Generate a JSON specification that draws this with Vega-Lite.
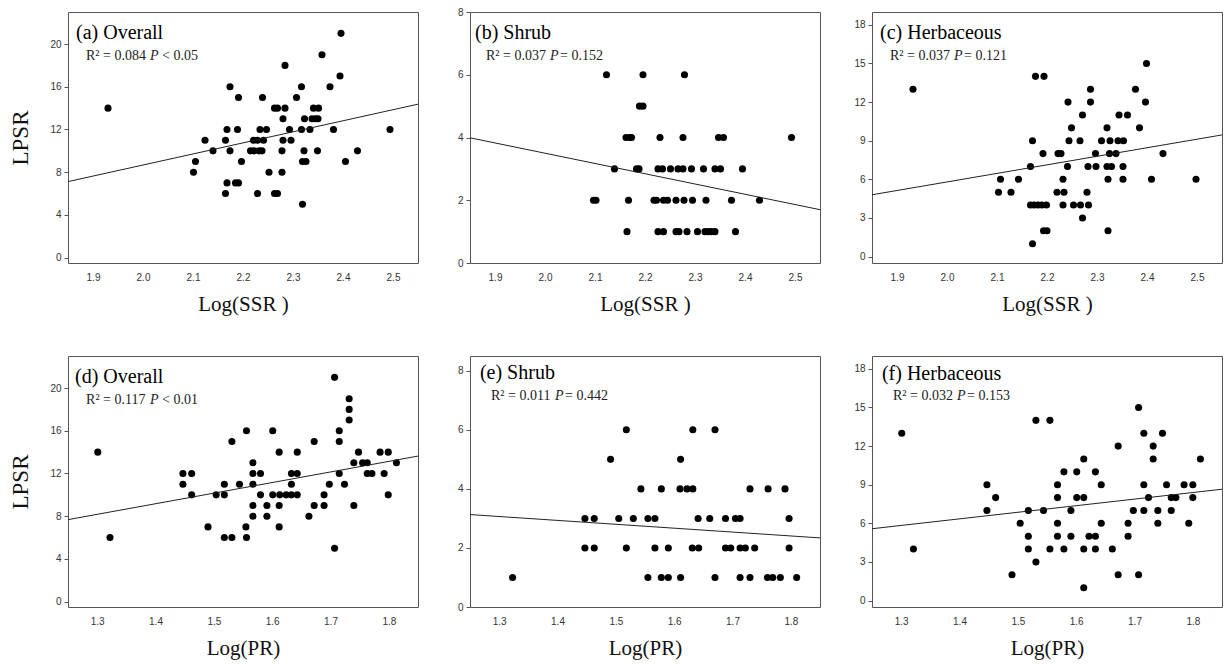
{
  "$schema": "https://vega.github.io/schema/vega-lite/v6.json",
  "background": "white",
  "padding": {"left": 9, "top": 6, "right": 2, "bottom": 2},
  "config": {
    "view": {"stroke": "#555", "strokeWidth": 1},
    "axis": {"grid": false, "domain": false, "labelFont": "Liberation Sans", "labelFontSize": 10, "labelColor": "#333", "tickColor": "#555", "tickSize": 4, "titleFont": "Liberation Serif", "titleFontSize": 21, "titleFontWeight": "normal", "titleColor": "#111"},
    "axisX": {"ticks": false, "labelPadding": 9, "titlePadding": 11},
    "axisY": {"labelPadding": 3, "titlePadding": 17, "titleFontSize": 23},
    "circle": {"size": 50, "opacity": 1, "color": "#000"},
    "line": {"color": "#222", "strokeWidth": 1}
  },
  "datasets": {
    "a": [
      {"x":1.930,"y":14},{"x":2.101,"y":8},{"x":2.105,"y":9},{"x":2.124,"y":11},{"x":2.140,"y":10},
      {"x":2.165,"y":11},{"x":2.168,"y":12},{"x":2.165,"y":6},{"x":2.168,"y":7},{"x":2.174,"y":16},
      {"x":2.174,"y":10},{"x":2.185,"y":7},{"x":2.191,"y":7},{"x":2.189,"y":12},{"x":2.191,"y":15},
      {"x":2.197,"y":9},{"x":2.215,"y":10},{"x":2.222,"y":10},{"x":2.232,"y":10},{"x":2.238,"y":10},
      {"x":2.221,"y":11},{"x":2.229,"y":11},{"x":2.241,"y":11},{"x":2.229,"y":6},{"x":2.234,"y":12},
      {"x":2.239,"y":15},{"x":2.247,"y":12},{"x":2.252,"y":8},{"x":2.263,"y":14},{"x":2.269,"y":14},
      {"x":2.263,"y":6},{"x":2.269,"y":6},{"x":2.278,"y":10},{"x":2.278,"y":8},{"x":2.280,"y":13},
      {"x":2.280,"y":11},{"x":2.284,"y":18},{"x":2.284,"y":14},{"x":2.293,"y":12},{"x":2.296,"y":11},
      {"x":2.307,"y":15},{"x":2.317,"y":16},{"x":2.317,"y":12},{"x":2.319,"y":9},{"x":2.319,"y":5},
      {"x":2.322,"y":10},{"x":2.323,"y":13},{"x":2.326,"y":9},{"x":2.334,"y":12},{"x":2.338,"y":13},
      {"x":2.341,"y":14},{"x":2.345,"y":13},{"x":2.351,"y":14},{"x":2.350,"y":13},{"x":2.349,"y":10},
      {"x":2.358,"y":19},{"x":2.374,"y":16},{"x":2.381,"y":12},{"x":2.394,"y":17},{"x":2.396,"y":21},
      {"x":2.405,"y":9},{"x":2.429,"y":10},{"x":2.494,"y":12}
    ],
    "b": [
      {"x":2.123,"y":6},{"x":2.196,"y":6},{"x":2.279,"y":6},
      {"x":2.189,"y":5},{"x":2.196,"y":5},
      {"x":2.162,"y":4},{"x":2.169,"y":4},{"x":2.173,"y":4},{"x":2.230,"y":4},{"x":2.276,"y":4},{"x":2.347,"y":4},{"x":2.357,"y":4},{"x":2.493,"y":4},
      {"x":2.139,"y":3},{"x":2.183,"y":3},{"x":2.188,"y":3},{"x":2.226,"y":3},{"x":2.235,"y":3},{"x":2.251,"y":3},{"x":2.266,"y":3},{"x":2.276,"y":3},{"x":2.293,"y":3},{"x":2.317,"y":3},{"x":2.340,"y":3},{"x":2.351,"y":3},{"x":2.395,"y":3},
      {"x":2.097,"y":2},{"x":2.102,"y":2},{"x":2.167,"y":2},{"x":2.218,"y":2},{"x":2.223,"y":2},{"x":2.237,"y":2},{"x":2.245,"y":2},{"x":2.262,"y":2},{"x":2.278,"y":2},{"x":2.295,"y":2},{"x":2.322,"y":2},{"x":2.373,"y":2},{"x":2.429,"y":2},
      {"x":2.164,"y":1},{"x":2.226,"y":1},{"x":2.237,"y":1},{"x":2.262,"y":1},{"x":2.268,"y":1},{"x":2.284,"y":1},{"x":2.305,"y":1},{"x":2.320,"y":1},{"x":2.327,"y":1},{"x":2.333,"y":1},{"x":2.340,"y":1},{"x":2.381,"y":1}
    ],
    "c": [
      {"x":1.932,"y":13},{"x":2.103,"y":5},{"x":2.107,"y":6},{"x":2.128,"y":5},{"x":2.143,"y":6},
      {"x":2.167,"y":4},{"x":2.174,"y":4},{"x":2.182,"y":4},{"x":2.190,"y":4},{"x":2.199,"y":4},
      {"x":2.167,"y":7},{"x":2.171,"y":9},{"x":2.171,"y":1},{"x":2.177,"y":14},{"x":2.192,"y":8},
      {"x":2.194,"y":14},{"x":2.193,"y":2},{"x":2.200,"y":2},{"x":2.220,"y":5},{"x":2.222,"y":8},
      {"x":2.228,"y":8},{"x":2.232,"y":6},{"x":2.234,"y":5},{"x":2.232,"y":4},{"x":2.241,"y":7},
      {"x":2.242,"y":12},{"x":2.244,"y":9},{"x":2.249,"y":10},{"x":2.253,"y":4},{"x":2.266,"y":9},
      {"x":2.267,"y":4},{"x":2.271,"y":11},{"x":2.271,"y":3},{"x":2.280,"y":5},{"x":2.282,"y":7},
      {"x":2.283,"y":4},{"x":2.287,"y":13},{"x":2.287,"y":12},{"x":2.297,"y":8},{"x":2.298,"y":7},
      {"x":2.309,"y":9},{"x":2.320,"y":10},{"x":2.320,"y":7},{"x":2.322,"y":6},{"x":2.322,"y":2},
      {"x":2.325,"y":8},{"x":2.326,"y":9},{"x":2.329,"y":7},{"x":2.338,"y":8},{"x":2.342,"y":9},
      {"x":2.344,"y":11},{"x":2.353,"y":9},{"x":2.352,"y":7},{"x":2.352,"y":6},{"x":2.361,"y":11},
      {"x":2.377,"y":13},{"x":2.385,"y":10},{"x":2.397,"y":12},{"x":2.399,"y":15},{"x":2.409,"y":6},
      {"x":2.432,"y":8},{"x":2.498,"y":6}
    ],
    "d": [
      {"x":1.301,"y":14},{"x":1.322,"y":6},{"x":1.447,"y":12},{"x":1.447,"y":11},{"x":1.462,"y":12},
      {"x":1.462,"y":10},{"x":1.490,"y":7},{"x":1.504,"y":10},{"x":1.518,"y":11},{"x":1.518,"y":10},
      {"x":1.518,"y":6},{"x":1.531,"y":15},{"x":1.531,"y":6},{"x":1.544,"y":11},{"x":1.555,"y":7},
      {"x":1.556,"y":16},{"x":1.556,"y":6},{"x":1.567,"y":13},{"x":1.567,"y":12},{"x":1.567,"y":11},
      {"x":1.567,"y":9},{"x":1.567,"y":8},{"x":1.580,"y":12},{"x":1.580,"y":10},{"x":1.591,"y":9},
      {"x":1.591,"y":8},{"x":1.601,"y":16},{"x":1.601,"y":10},{"x":1.612,"y":14},{"x":1.612,"y":9},
      {"x":1.612,"y":7},{"x":1.613,"y":10},{"x":1.624,"y":10},{"x":1.633,"y":12},{"x":1.633,"y":11},
      {"x":1.633,"y":10},{"x":1.643,"y":14},{"x":1.643,"y":12},{"x":1.643,"y":10},{"x":1.663,"y":8},
      {"x":1.672,"y":15},{"x":1.672,"y":9},{"x":1.689,"y":10},{"x":1.689,"y":9},{"x":1.698,"y":11},
      {"x":1.707,"y":21},{"x":1.707,"y":5},{"x":1.715,"y":16},{"x":1.715,"y":15},{"x":1.715,"y":12},
      {"x":1.724,"y":11},{"x":1.732,"y":19},{"x":1.732,"y":18},{"x":1.732,"y":17},{"x":1.740,"y":13},
      {"x":1.740,"y":9},{"x":1.748,"y":14},{"x":1.755,"y":13},{"x":1.763,"y":13},{"x":1.763,"y":12},
      {"x":1.771,"y":12},{"x":1.785,"y":14},{"x":1.792,"y":12},{"x":1.799,"y":14},{"x":1.799,"y":10},
      {"x":1.813,"y":13}
    ],
    "e": [
      {"x":1.323,"y":1},{"x":1.447,"y":3},{"x":1.447,"y":2},{"x":1.463,"y":3},{"x":1.463,"y":2},
      {"x":1.491,"y":5},{"x":1.505,"y":3},{"x":1.518,"y":6},{"x":1.518,"y":2},{"x":1.530,"y":3},
      {"x":1.543,"y":4},{"x":1.555,"y":3},{"x":1.555,"y":1},{"x":1.567,"y":3},{"x":1.567,"y":2},
      {"x":1.578,"y":4},{"x":1.578,"y":1},{"x":1.590,"y":2},{"x":1.590,"y":1},{"x":1.611,"y":5},
      {"x":1.610,"y":4},{"x":1.611,"y":1},{"x":1.622,"y":4},{"x":1.632,"y":6},{"x":1.632,"y":4},
      {"x":1.631,"y":2},{"x":1.641,"y":3},{"x":1.642,"y":2},{"x":1.661,"y":3},{"x":1.670,"y":6},
      {"x":1.670,"y":1},{"x":1.688,"y":3},{"x":1.688,"y":2},{"x":1.697,"y":2},{"x":1.705,"y":3},
      {"x":1.713,"y":3},{"x":1.713,"y":2},{"x":1.713,"y":1},{"x":1.722,"y":2},{"x":1.730,"y":4},
      {"x":1.730,"y":1},{"x":1.738,"y":2},{"x":1.761,"y":4},{"x":1.760,"y":1},{"x":1.769,"y":1},
      {"x":1.782,"y":1},{"x":1.790,"y":4},{"x":1.797,"y":3},{"x":1.797,"y":2},{"x":1.810,"y":1}
    ],
    "f": [
      {"x":1.301,"y":13},{"x":1.321,"y":4},{"x":1.447,"y":9},{"x":1.447,"y":7},{"x":1.462,"y":8},
      {"x":1.490,"y":2},{"x":1.504,"y":6},{"x":1.518,"y":7},{"x":1.518,"y":5},{"x":1.518,"y":4},
      {"x":1.531,"y":14},{"x":1.531,"y":3},{"x":1.544,"y":7},{"x":1.555,"y":14},{"x":1.555,"y":4},
      {"x":1.568,"y":9},{"x":1.568,"y":8},{"x":1.568,"y":6},{"x":1.568,"y":5},{"x":1.579,"y":10},
      {"x":1.579,"y":4},{"x":1.591,"y":7},{"x":1.591,"y":5},{"x":1.601,"y":10},{"x":1.601,"y":8},
      {"x":1.613,"y":11},{"x":1.613,"y":8},{"x":1.613,"y":4},{"x":1.613,"y":1},{"x":1.622,"y":5},
      {"x":1.633,"y":10},{"x":1.633,"y":5},{"x":1.633,"y":4},{"x":1.643,"y":9},{"x":1.643,"y":6},
      {"x":1.662,"y":4},{"x":1.672,"y":12},{"x":1.672,"y":2},{"x":1.689,"y":6},{"x":1.689,"y":5},
      {"x":1.698,"y":7},{"x":1.707,"y":15},{"x":1.707,"y":2},{"x":1.716,"y":13},{"x":1.716,"y":9},
      {"x":1.716,"y":7},{"x":1.724,"y":8},{"x":1.732,"y":12},{"x":1.732,"y":11},{"x":1.740,"y":7},
      {"x":1.740,"y":6},{"x":1.748,"y":13},{"x":1.755,"y":9},{"x":1.763,"y":8},{"x":1.763,"y":7},
      {"x":1.771,"y":8},{"x":1.785,"y":9},{"x":1.793,"y":6},{"x":1.800,"y":9},{"x":1.800,"y":8},
      {"x":1.813,"y":11}
    ],
    "fa": [{"x":1.85,"y":7.12},{"x":2.55,"y":14.37}],
    "fb": [{"x":1.85,"y":3.99},{"x":2.55,"y":1.70}],
    "fc": [{"x":1.85,"y":4.8},{"x":2.55,"y":9.45}],
    "fd": [{"x":1.25,"y":7.68},{"x":1.85,"y":13.63}],
    "fe": [{"x":1.25,"y":3.13},{"x":1.85,"y":2.34}],
    "ff": [{"x":1.25,"y":5.58},{"x":1.85,"y":8.65}],
    "one": [{}]
  },
  "columns": 3,
  "spacing": {"row": 93, "column": 52},
  "bounds": "flush",
  "concat": [
    {
      "width": 350, "height": 251,
      "layer": [
        {"data": {"name": "a"}, "mark": "circle",
         "encoding": {
           "x": {"field": "x", "type": "quantitative", "scale": {"domain": [1.85, 2.55], "nice": false, "zero": false}, "axis": {"values": [1.9, 2.0, 2.1, 2.2, 2.3, 2.4, 2.5], "format": ".1f"}, "title": "Log(SSR )"},
           "y": {"field": "y", "type": "quantitative", "scale": {"domain": [-0.5, 23], "nice": false, "zero": false}, "axis": {"values": [0, 4, 8, 12, 16, 20]}, "title": "LPSR"}}},
        {"data": {"name": "fa"}, "mark": "line",
         "encoding": {
           "x": {"field": "x", "type": "quantitative", "scale": {"domain": [1.85, 2.55], "nice": false, "zero": false}, "title": "Log(SSR )"},
           "y": {"field": "y", "type": "quantitative", "scale": {"domain": [-0.5, 23], "nice": false, "zero": false}, "title": "LPSR"}}},
        {"data": {"name": "one"}, "mark": {"type": "text", "font": "Liberation Serif", "fontSize": 20, "align": "left", "baseline": "alphabetic", "color": "#000"},
         "encoding": {"x": {"datum": 1.866}, "y": {"datum": 20.48}, "text": {"value": "(a) Overall"}}},
        {"data": {"name": "one"}, "mark": {"type": "text", "font": "Liberation Serif", "fontSize": 14, "align": "left", "baseline": "alphabetic", "color": "#222"},
         "encoding": {"x": {"datum": 1.886}, "y": {"datum": 18.52}, "text": {"value": "R² = 0.084"}}},
        {"data": {"name": "one"}, "mark": {"type": "text", "font": "Liberation Serif", "fontSize": 14, "fontStyle": "italic", "align": "left", "baseline": "alphabetic", "color": "#222", "dx": 64},
         "encoding": {"x": {"datum": 1.886}, "y": {"datum": 18.52}, "text": {"value": "P"}}},
        {"data": {"name": "one"}, "mark": {"type": "text", "font": "Liberation Serif", "fontSize": 14, "align": "left", "baseline": "alphabetic", "color": "#222", "dx": 76},
         "encoding": {"x": {"datum": 1.886}, "y": {"datum": 18.52}, "text": {"value": "< 0.05"}}}
      ]
    },
    {
      "width": 350, "height": 251,
      "layer": [
        {"data": {"name": "b"}, "mark": "circle",
         "encoding": {
           "x": {"field": "x", "type": "quantitative", "scale": {"domain": [1.85, 2.55], "nice": false, "zero": false}, "axis": {"values": [1.9, 2.0, 2.1, 2.2, 2.3, 2.4, 2.5], "format": ".1f"}, "title": "Log(SSR )"},
           "y": {"field": "y", "type": "quantitative", "scale": {"domain": [0, 8], "nice": false, "zero": false}, "axis": {"values": [0, 2, 4, 6, 8]}, "title": null}}},
        {"data": {"name": "fb"}, "mark": "line",
         "encoding": {
           "x": {"field": "x", "type": "quantitative", "scale": {"domain": [1.85, 2.55], "nice": false, "zero": false}, "title": "Log(SSR )"},
           "y": {"field": "y", "type": "quantitative", "scale": {"domain": [0, 8], "nice": false, "zero": false}, "title": null}}},
        {"data": {"name": "one"}, "mark": {"type": "text", "font": "Liberation Serif", "fontSize": 20, "align": "left", "baseline": "alphabetic", "color": "#000"},
         "encoding": {"x": {"datum": 1.860}, "y": {"datum": 7.14}, "text": {"value": "(b) Shrub"}}},
        {"data": {"name": "one"}, "mark": {"type": "text", "font": "Liberation Serif", "fontSize": 14, "align": "left", "baseline": "alphabetic", "color": "#222"},
         "encoding": {"x": {"datum": 1.882}, "y": {"datum": 6.48}, "text": {"value": "R² = 0.037"}}},
        {"data": {"name": "one"}, "mark": {"type": "text", "font": "Liberation Serif", "fontSize": 14, "fontStyle": "italic", "align": "left", "baseline": "alphabetic", "color": "#222", "dx": 64},
         "encoding": {"x": {"datum": 1.882}, "y": {"datum": 6.48}, "text": {"value": "P"}}},
        {"data": {"name": "one"}, "mark": {"type": "text", "font": "Liberation Serif", "fontSize": 14, "align": "left", "baseline": "alphabetic", "color": "#222", "dx": 74},
         "encoding": {"x": {"datum": 1.882}, "y": {"datum": 6.48}, "text": {"value": "= 0.152"}}}
      ]
    },
    {
      "width": 350, "height": 251,
      "layer": [
        {"data": {"name": "c"}, "mark": "circle",
         "encoding": {
           "x": {"field": "x", "type": "quantitative", "scale": {"domain": [1.85, 2.55], "nice": false, "zero": false}, "axis": {"values": [1.9, 2.0, 2.1, 2.2, 2.3, 2.4, 2.5], "format": ".1f"}, "title": "Log(SSR )"},
           "y": {"field": "y", "type": "quantitative", "scale": {"domain": [-0.5, 19], "nice": false, "zero": false}, "axis": {"values": [0, 3, 6, 9, 12, 15, 18]}, "title": null}}},
        {"data": {"name": "fc"}, "mark": "line",
         "encoding": {
           "x": {"field": "x", "type": "quantitative", "scale": {"domain": [1.85, 2.55], "nice": false, "zero": false}, "title": "Log(SSR )"},
           "y": {"field": "y", "type": "quantitative", "scale": {"domain": [-0.5, 19], "nice": false, "zero": false}, "title": null}}},
        {"data": {"name": "one"}, "mark": {"type": "text", "font": "Liberation Serif", "fontSize": 20, "align": "left", "baseline": "alphabetic", "color": "#000"},
         "encoding": {"x": {"datum": 1.866}, "y": {"datum": 16.91}, "text": {"value": "(c) Herbaceous"}}},
        {"data": {"name": "one"}, "mark": {"type": "text", "font": "Liberation Serif", "fontSize": 14, "align": "left", "baseline": "alphabetic", "color": "#222"},
         "encoding": {"x": {"datum": 1.886}, "y": {"datum": 15.28}, "text": {"value": "R² = 0.037"}}},
        {"data": {"name": "one"}, "mark": {"type": "text", "font": "Liberation Serif", "fontSize": 14, "fontStyle": "italic", "align": "left", "baseline": "alphabetic", "color": "#222", "dx": 64},
         "encoding": {"x": {"datum": 1.886}, "y": {"datum": 15.28}, "text": {"value": "P"}}},
        {"data": {"name": "one"}, "mark": {"type": "text", "font": "Liberation Serif", "fontSize": 14, "align": "left", "baseline": "alphabetic", "color": "#222", "dx": 74},
         "encoding": {"x": {"datum": 1.886}, "y": {"datum": 15.28}, "text": {"value": "= 0.121"}}}
      ]
    },
    {
      "width": 350, "height": 251,
      "layer": [
        {"data": {"name": "d"}, "mark": "circle",
         "encoding": {
           "x": {"field": "x", "type": "quantitative", "scale": {"domain": [1.25, 1.85], "nice": false, "zero": false}, "axis": {"values": [1.3, 1.4, 1.5, 1.6, 1.7, 1.8], "format": ".1f"}, "title": "Log(PR)"},
           "y": {"field": "y", "type": "quantitative", "scale": {"domain": [-0.5, 23], "nice": false, "zero": false}, "axis": {"values": [0, 4, 8, 12, 16, 20]}, "title": "LPSR"}}},
        {"data": {"name": "fd"}, "mark": "line",
         "encoding": {
           "x": {"field": "x", "type": "quantitative", "scale": {"domain": [1.25, 1.85], "nice": false, "zero": false}, "title": "Log(PR)"},
           "y": {"field": "y", "type": "quantitative", "scale": {"domain": [-0.5, 23], "nice": false, "zero": false}, "title": "LPSR"}}},
        {"data": {"name": "one"}, "mark": {"type": "text", "font": "Liberation Serif", "fontSize": 20, "align": "left", "baseline": "alphabetic", "color": "#000"},
         "encoding": {"x": {"datum": 1.262}, "y": {"datum": 20.48}, "text": {"value": "(d) Overall"}}},
        {"data": {"name": "one"}, "mark": {"type": "text", "font": "Liberation Serif", "fontSize": 14, "align": "left", "baseline": "alphabetic", "color": "#222"},
         "encoding": {"x": {"datum": 1.281}, "y": {"datum": 18.52}, "text": {"value": "R² = 0.117"}}},
        {"data": {"name": "one"}, "mark": {"type": "text", "font": "Liberation Serif", "fontSize": 14, "fontStyle": "italic", "align": "left", "baseline": "alphabetic", "color": "#222", "dx": 64},
         "encoding": {"x": {"datum": 1.281}, "y": {"datum": 18.52}, "text": {"value": "P"}}},
        {"data": {"name": "one"}, "mark": {"type": "text", "font": "Liberation Serif", "fontSize": 14, "align": "left", "baseline": "alphabetic", "color": "#222", "dx": 76},
         "encoding": {"x": {"datum": 1.281}, "y": {"datum": 18.52}, "text": {"value": "< 0.01"}}}
      ]
    },
    {
      "width": 350, "height": 251,
      "layer": [
        {"data": {"name": "e"}, "mark": "circle",
         "encoding": {
           "x": {"field": "x", "type": "quantitative", "scale": {"domain": [1.25, 1.85], "nice": false, "zero": false}, "axis": {"values": [1.3, 1.4, 1.5, 1.6, 1.7, 1.8], "format": ".1f"}, "title": "Log(PR)"},
           "y": {"field": "y", "type": "quantitative", "scale": {"domain": [0, 8.5], "nice": false, "zero": false}, "axis": {"values": [0, 2, 4, 6, 8]}, "title": null}}},
        {"data": {"name": "fe"}, "mark": "line",
         "encoding": {
           "x": {"field": "x", "type": "quantitative", "scale": {"domain": [1.25, 1.85], "nice": false, "zero": false}, "title": "Log(PR)"},
           "y": {"field": "y", "type": "quantitative", "scale": {"domain": [0, 8.5], "nice": false, "zero": false}, "title": null}}},
        {"data": {"name": "one"}, "mark": {"type": "text", "font": "Liberation Serif", "fontSize": 20, "align": "left", "baseline": "alphabetic", "color": "#000"},
         "encoding": {"x": {"datum": 1.267}, "y": {"datum": 7.72}, "text": {"value": "(e) Shrub"}}},
        {"data": {"name": "one"}, "mark": {"type": "text", "font": "Liberation Serif", "fontSize": 14, "align": "left", "baseline": "alphabetic", "color": "#222"},
         "encoding": {"x": {"datum": 1.286}, "y": {"datum": 7.02}, "text": {"value": "R² = 0.011"}}},
        {"data": {"name": "one"}, "mark": {"type": "text", "font": "Liberation Serif", "fontSize": 14, "fontStyle": "italic", "align": "left", "baseline": "alphabetic", "color": "#222", "dx": 64},
         "encoding": {"x": {"datum": 1.286}, "y": {"datum": 7.02}, "text": {"value": "P"}}},
        {"data": {"name": "one"}, "mark": {"type": "text", "font": "Liberation Serif", "fontSize": 14, "align": "left", "baseline": "alphabetic", "color": "#222", "dx": 74},
         "encoding": {"x": {"datum": 1.286}, "y": {"datum": 7.02}, "text": {"value": "= 0.442"}}}
      ]
    },
    {
      "width": 350, "height": 251,
      "layer": [
        {"data": {"name": "f"}, "mark": "circle",
         "encoding": {
           "x": {"field": "x", "type": "quantitative", "scale": {"domain": [1.25, 1.85], "nice": false, "zero": false}, "axis": {"values": [1.3, 1.4, 1.5, 1.6, 1.7, 1.8], "format": ".1f"}, "title": "Log(PR)"},
           "y": {"field": "y", "type": "quantitative", "scale": {"domain": [-0.5, 19], "nice": false, "zero": false}, "axis": {"values": [0, 3, 6, 9, 12, 15, 18]}, "title": null}}},
        {"data": {"name": "ff"}, "mark": "line",
         "encoding": {
           "x": {"field": "x", "type": "quantitative", "scale": {"domain": [1.25, 1.85], "nice": false, "zero": false}, "title": "Log(PR)"},
           "y": {"field": "y", "type": "quantitative", "scale": {"domain": [-0.5, 19], "nice": false, "zero": false}, "title": null}}},
        {"data": {"name": "one"}, "mark": {"type": "text", "font": "Liberation Serif", "fontSize": 20, "align": "left", "baseline": "alphabetic", "color": "#000"},
         "encoding": {"x": {"datum": 1.267}, "y": {"datum": 17.14}, "text": {"value": "(f) Herbaceous"}}},
        {"data": {"name": "one"}, "mark": {"type": "text", "font": "Liberation Serif", "fontSize": 14, "align": "left", "baseline": "alphabetic", "color": "#222"},
         "encoding": {"x": {"datum": 1.286}, "y": {"datum": 15.6}, "text": {"value": "R² = 0.032"}}},
        {"data": {"name": "one"}, "mark": {"type": "text", "font": "Liberation Serif", "fontSize": 14, "fontStyle": "italic", "align": "left", "baseline": "alphabetic", "color": "#222", "dx": 64},
         "encoding": {"x": {"datum": 1.286}, "y": {"datum": 15.6}, "text": {"value": "P"}}},
        {"data": {"name": "one"}, "mark": {"type": "text", "font": "Liberation Serif", "fontSize": 14, "align": "left", "baseline": "alphabetic", "color": "#222", "dx": 74},
         "encoding": {"x": {"datum": 1.286}, "y": {"datum": 15.6}, "text": {"value": "= 0.153"}}}
      ]
    }
  ]
}
